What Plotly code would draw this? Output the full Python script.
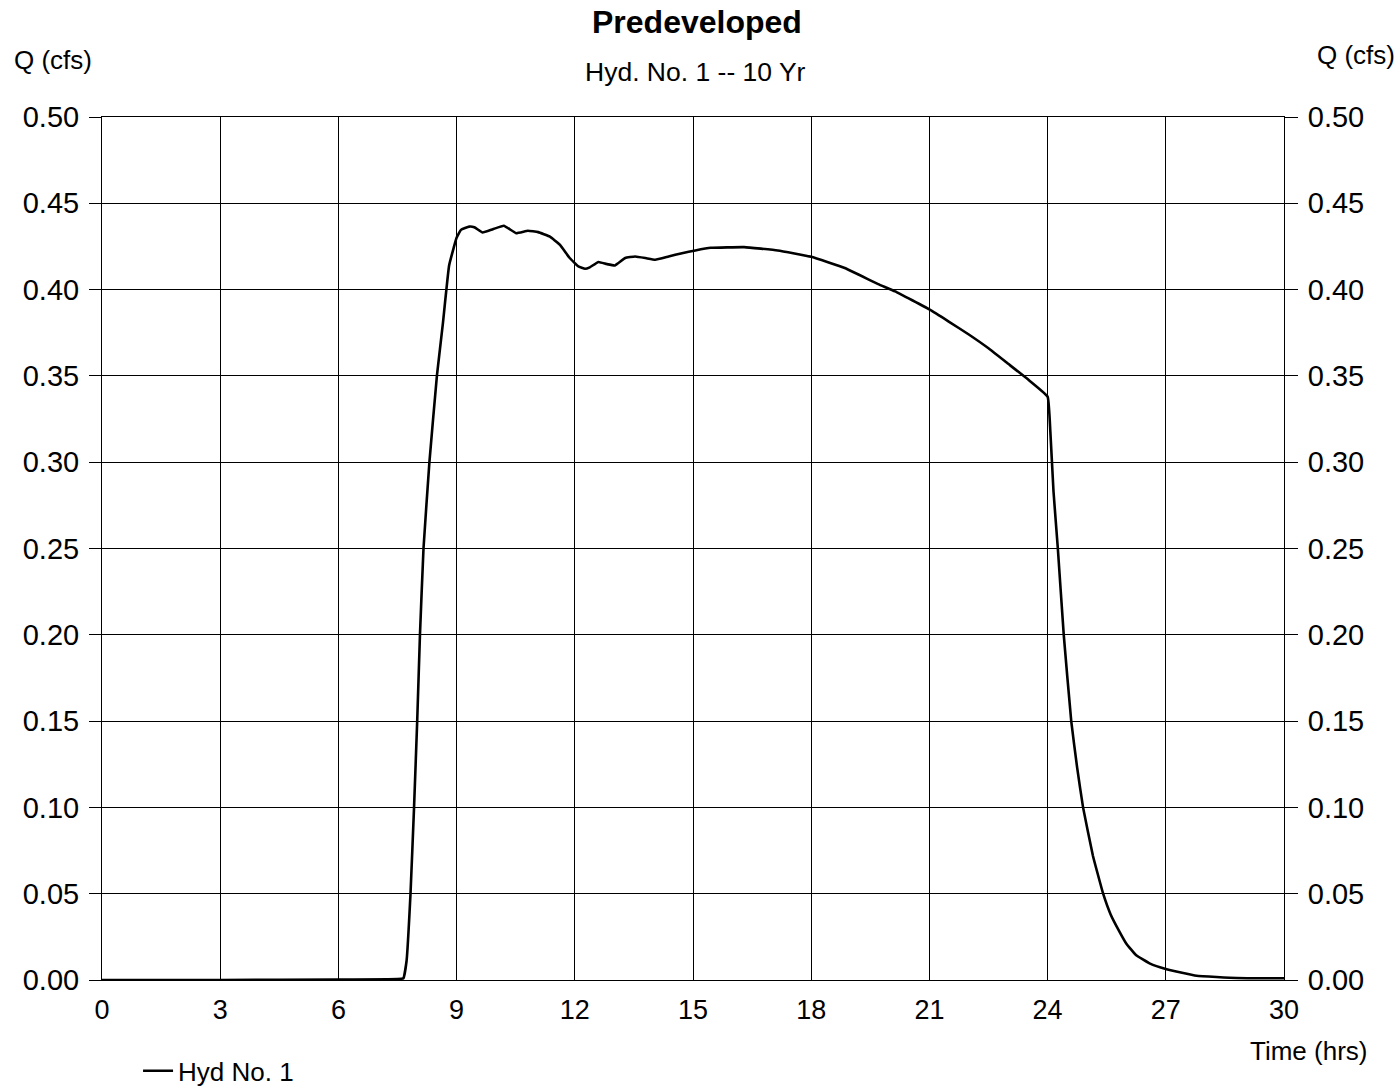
import plotly.graph_objects as go

# Hydrograph ordinates: time (hrs) vs discharge Q (cfs)
time_hrs = [0.0, 3.0, 6.0, 7.5, 7.65, 7.73, 7.83, 7.92, 8.00, 8.07, 8.16, 8.31,
            8.50, 8.65, 8.81, 9.00, 9.11, 9.32, 9.45, 9.66, 9.92, 10.20, 10.51,
            10.81, 11.07, 11.36, 11.62, 11.87, 12.09, 12.26, 12.38, 12.60, 12.81,
            13.02, 13.28, 13.53, 13.79, 14.04, 14.38, 14.72, 15.06, 15.45, 16.30,
            17.15, 18.00, 18.85, 19.70, 20.13, 21.00, 21.49, 22.00, 22.50, 23.00,
            23.50, 24.00, 24.07, 24.15, 24.26, 24.41, 24.60, 24.75, 24.90, 25.15,
            25.41, 25.60, 25.82, 26.00, 26.24, 26.60, 27.00, 27.78, 28.80, 30.00]
flow_cfs = [0.0, 0.0, 0.0002, 0.0005, 0.001, 0.011, 0.05, 0.10, 0.15, 0.20, 0.25,
            0.30, 0.35, 0.38, 0.414, 0.430, 0.4346, 0.4365, 0.4361, 0.4331, 0.435,
            0.437, 0.4327, 0.4341, 0.4333, 0.4308, 0.426, 0.4183, 0.4135, 0.4121,
            0.4129, 0.416, 0.4148, 0.414, 0.4183, 0.4192, 0.4183, 0.4173, 0.4192,
            0.4211, 0.4227, 0.4242, 0.4246, 0.4227, 0.419, 0.4125, 0.4032, 0.399,
            0.3885, 0.3815, 0.374, 0.366, 0.357, 0.348, 0.338, 0.3176, 0.283, 0.25,
            0.20, 0.15, 0.123, 0.10, 0.072, 0.05, 0.038, 0.0282, 0.021, 0.0145,
            0.0095, 0.0064, 0.0025, 0.0012, 0.001]

x_ticks = [0, 3, 6, 9, 12, 15, 18, 21, 24, 27, 30]
y_ticks = [0.00, 0.05, 0.10, 0.15, 0.20, 0.25, 0.30, 0.35, 0.40, 0.45, 0.50]
y_labels = [f"{v:.2f}" for v in y_ticks]

FONT = "Arial, Liberation Sans, Helvetica, sans-serif"

fig = go.Figure()
fig.add_trace(go.Scatter(
    x=time_hrs, y=flow_cfs, mode="lines", name="Hyd No. 1",
    line=dict(color="black", width=2.6, shape="spline", smoothing=0.3),
))
# mirror trace so the right-hand Q axis is drawn
fig.add_trace(go.Scatter(
    x=time_hrs, y=flow_cfs, mode="lines", yaxis="y2", showlegend=False,
    line=dict(color="rgba(0,0,0,0)", width=0), hoverinfo="skip",
))

grid = dict(showgrid=True, gridcolor="black", gridwidth=1,
            showline=True, linecolor="black", linewidth=1, zeroline=False)

fig.update_layout(
    width=1398, height=1091,
    margin=dict(l=102, r=114, t=117, b=111, autoexpand=False),
    paper_bgcolor="white", plot_bgcolor="white",
    font=dict(family=FONT, color="black"),
    xaxis=dict(
        range=[0, 30], tickvals=x_ticks, ticks="", mirror=True,
        ticklabelstandoff=6,
        tickfont=dict(family=FONT, size=27, color="black"), **grid,
    ),
    yaxis=dict(
        range=[0, 0.5], tickvals=y_ticks, ticktext=y_labels,
        ticks="outside", ticklen=12, tickcolor="black", tickwidth=1,
        ticklabelstandoff=4,
        tickfont=dict(family=FONT, size=29, color="black"), **grid,
    ),
    yaxis2=dict(
        range=[0, 0.5], tickvals=y_ticks, ticktext=y_labels, overlaying="y",
        side="right", ticks="outside", ticklen=13, tickcolor="black",
        tickwidth=1, showgrid=False, showline=True, linecolor="black",
        linewidth=1, zeroline=False, ticklabelstandoff=4,
        tickfont=dict(family=FONT, size=29, color="black"),
    ),
    showlegend=True,
    legend=dict(
        x=0.0305, y=-0.078, xanchor="left", yanchor="top",
        orientation="h", font=dict(family=FONT, size=26, color="black"),
        bgcolor="rgba(0,0,0,0)", borderwidth=0,
    ),
    annotations=[
        dict(text="<b>Predeveloped</b>", x=0.503, y=1.110, xref="paper",
             yref="paper", xanchor="center", yanchor="middle", showarrow=False,
             font=dict(family=FONT, size=32, color="black")),
        dict(text="Hyd. No. 1 -- 10 Yr", x=0.502, y=1.052, xref="paper",
             yref="paper", xanchor="center", yanchor="middle", showarrow=False,
             font=dict(family=FONT, size=26.5, color="black")),
        dict(text="Q (cfs)", x=-0.0761, y=1.066, xref="paper", yref="paper",
             xanchor="left", yanchor="middle", showarrow=False,
             font=dict(family=FONT, size=26, color="black")),
        dict(text="Q (cfs)", x=1.026, y=1.072, xref="paper", yref="paper",
             xanchor="left", yanchor="middle", showarrow=False,
             font=dict(family=FONT, size=26, color="black")),
        dict(text="Time (hrs)", x=0.9695, y=-0.0823, xref="paper",
             yref="paper", xanchor="left", yanchor="middle", showarrow=False,
             font=dict(family=FONT, size=26, color="black")),
    ],
)

fig.write_html("out.html")
